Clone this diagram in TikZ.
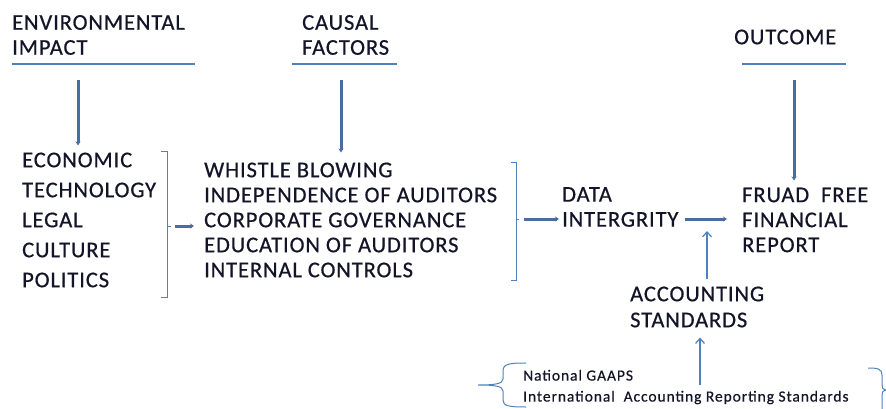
\documentclass[tikz,border=0pt]{standalone}
\usepackage{fontspec}
\usepackage{xcolor}
\setmainfont{Carlito}
\newfontfamily\capsfont[LetterSpace=4,FakeBold=0.6]{Carlito}
\newfontfamily\notefont[LetterSpace=6,FakeBold=0.5]{Carlito}
\usetikzlibrary{arrows.meta}

\definecolor{ruleblue}{HTML}{4F81BD}
\definecolor{heavyblue}{HTML}{4A6C9E}
\definecolor{inkdark}{HTML}{141428}

\tikzset{
    block/.style={anchor=west, inner sep=0pt, align=left, text=inkdark},
    rule/.style={draw=ruleblue, line width=1.3pt},
    heavy/.style={draw=heavyblue, line width=3pt, -{Stealth[length=4pt,width=5pt]}},
    slim/.style={draw=ruleblue, line width=1.2pt, -{Straight Barb[length=5pt,width=9pt]}}
}

\begin{document}
\begin{tikzpicture}[x=1pt,y=-1pt]
        \useasboundingbox (0,0) rectangle (886,409);

        % headings
        \node[block, font=\capsfont\fontsize{22.5}{25}\selectfont] (envimpact) at (12,35) {ENVIRONMENTAL\\IMPACT};
        \node[block, font=\capsfont\fontsize{22.5}{25}\selectfont] (causal) at (302,35) {CAUSAL\\FACTORS};
        \node[block, font=\capsfont\fontsize{22.5}{25}\selectfont] (outcome) at (734,37) {OUTCOME};

        \draw[rule] (12,64) -- (195,64);
        \draw[rule] (292,64) -- (397,64);
        \draw[rule] (742,64) -- (846,64);

        % lists
        \node[block, font=\capsfont\fontsize{22.5}{30}\selectfont] (envlist) at (22,220)
            {ECONOMIC\\TECHNOLOGY\\LEGAL\\CULTURE\\POLITICS};
        \node[block, font=\capsfont\fontsize{22.5}{25}\selectfont] (causelist) at (204,220)
            {WHISTLE BLOWING\\INDEPENDENCE OF AUDITORS\\CORPORATE GOVERNANCE\\EDUCATION OF AUDITORS\\INTERNAL CONTROLS};
        \node[block, font=\capsfont\fontsize{22.5}{25}\selectfont] (data) at (562,207) {DATA\\INTERGRITY};
        \node[block, font=\capsfont\fontsize{22.5}{25}\selectfont] (fraud) at (742,220) {FRUAD~ FREE\\FINANCIAL\\REPORT};
        \node[block, font=\capsfont\fontsize{22.5}{26}\selectfont] (acc) at (630,307) {ACCOUNTING\\STANDARDS};
        \node[block, font=\notefont\fontsize{15.5}{21}\selectfont] (gaaps) at (523,387)
            {National GAAPS\\International~ Accounting Reporting Standards};

        % brackets
        \draw[rule, line width=1pt] (161,152) -- (167,152) -- (167,297) -- (161,297);
        \draw[rule, line width=1pt] (167,226) -- (171,226);
        \draw[rule, line width=1pt] (511,162) -- (516,162) -- (516,280) -- (511,280);
        \draw[rule, line width=1pt] (516,219) -- (519,219);

        % braces round the standards
        \draw[rule, line width=1pt] (526,363) .. controls (509,363) and (503,364) .. (503,371)
            -- (503,379) .. controls (503,384) and (494,385) .. (478,385)
            .. controls (494,385) and (503,386) .. (503,391)
            -- (503,400) .. controls (503,406) and (509,407) .. (526,407);
        \draw[rule, line width=1pt] (868,368) .. controls (878,368) and (882,369) .. (882,375)
            -- (882,385) .. controls (882,388) and (883,390) .. (886,390)
            .. controls (883,390) and (882,392) .. (882,395) -- (882,409);

        % connector ends
        \coordinate (envfoot) at (78,80);
        \coordinate (causefoot) at (341,80);
        \coordinate (outfoot) at (794,80);
        \coordinate (leftbrk) at (171,226);
        \coordinate (midbrk) at (519,219);
        \coordinate (dataup) at (707,231);
        \coordinate (gaapup) at (700,385);

        \draw[heavy, shorten >=7pt] (envfoot) -- (envfoot |- envlist.north);
        \draw[heavy, shorten >=10pt] (causefoot) -- (causefoot |- causelist.north);
        \draw[heavy, shorten >=7pt] (outfoot) -- (outfoot |- fraud.north);

        \draw[heavy, shorten <=4pt, shorten >=10pt] (leftbrk) -- (causelist.west |- leftbrk);
        \draw[heavy, shorten <=5pt, shorten >=3pt] (midbrk) -- (data.west |- midbrk);
        \draw[heavy, shorten <=6pt, shorten >=15pt] (data.east |- midbrk) -- (fraud.west |- midbrk);

        \draw[slim, shorten <=7pt] (acc.north -| dataup) -- (dataup);
        \draw[slim, shorten >=10pt] (gaapup) -- (gaapup |- acc.south);
    \end{tikzpicture}
\end{document}
